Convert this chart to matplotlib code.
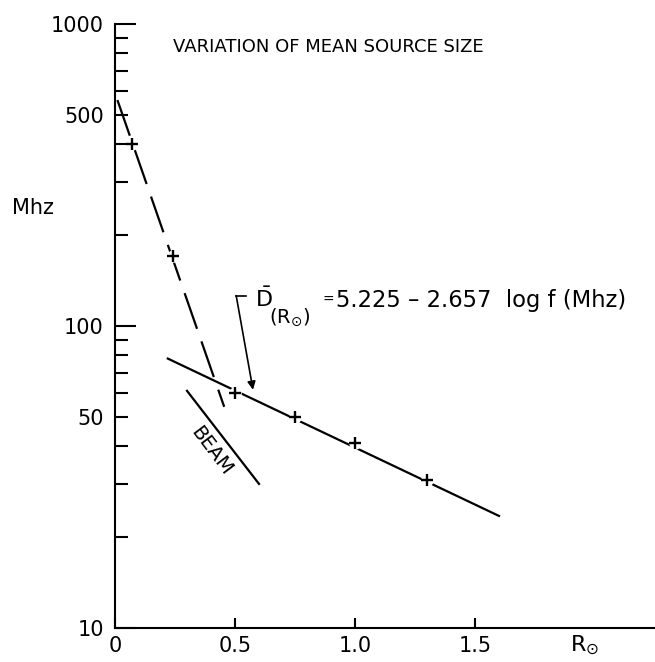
import matplotlib
matplotlib.use("Agg")
import matplotlib.pyplot as plt
from matplotlib.ticker import FixedLocator, FixedFormatter, NullFormatter

# ---- data ----
dashed_fit_x = [0.01, 0.455]
dashed_fit_y = [560, 54]
dashed_pts_x = [0.07, 0.24]
dashed_pts_y = [400, 171]

solid_fit_x = [0.22, 1.60]
solid_fit_y = [78, 23.5]
solid_pts_x = [0.5, 0.75, 1.0, 1.3]
solid_pts_y = [60, 50, 41, 31]

beam_x = [0.30, 0.60]
beam_y = [61, 30]

x_ticks = [0.5, 1.0, 1.5]
x_tick_labels = ["0.5", "1.0", "1.5"]
y_major = [10, 100, 1000]
y_major_labels = ["10", "100", "1000"]
y_minor = [20, 30, 40, 50, 60, 70, 80, 90, 200, 300, 400, 500, 600, 700, 800, 900]
y_minor_labels = ["", "", "", "50", "", "", "", "", "", "", "", "500", "", "", "", ""]

title = "VARIATION OF MEAN SOURCE SIZE"
eq_symbol = r"$\bar{\mathrm{D}}$"
eq_sub = r"(R$_{\odot}$)"
eq_equals = "="
eq_rest = "5.225 – 2.657  log f (Mhz)"

plt.rcParams['font.family'] = ['DejaVu Sans']

W, H = 655, 662
fig = plt.figure(figsize=(W / 100, H / 100), dpi=100)


def px(x, y):
    return x / W, 1 - y / H


ax = fig.add_axes([115 / W, 34 / H, 1 - 115 / W, 604 / H])
ax.set_yscale('log')
ax.set_xlim(0, 2.25)
ax.set_ylim(10, 1000)

for s in ['top', 'right']:
    ax.spines[s].set_visible(False)
for s in ['left', 'bottom']:
    ax.spines[s].set_linewidth(1.5)

ax.yaxis.set_major_locator(FixedLocator(y_major))
ax.yaxis.set_major_formatter(FixedFormatter(y_major_labels))
ax.yaxis.set_minor_locator(FixedLocator(y_minor))
ax.yaxis.set_minor_formatter(FixedFormatter(y_minor_labels))
ax.tick_params(axis='y', which='major', direction='in', length=15, width=1.5, labelsize=15, pad=8)
ax.tick_params(axis='y', which='minor', direction='in', length=9, width=1.5, labelsize=15, pad=8)

ax.xaxis.set_major_locator(FixedLocator([0] + x_ticks))
ax.xaxis.set_major_formatter(FixedFormatter(["0"] + x_tick_labels))
ax.xaxis.set_minor_formatter(NullFormatter())
ax.tick_params(axis='x', which='major', direction='in', length=7, width=1.5, labelsize=15, pad=6)
ax.tick_params(axis='x', which='minor', length=0)

# dashed fit
ax.plot(dashed_fit_x, dashed_fit_y, color='black', lw=1.6, dashes=(17, 6), solid_capstyle='butt')
# solid fit
ax.plot(solid_fit_x, solid_fit_y, color='black', lw=1.6)
# beam
ax.plot(beam_x, beam_y, color='black', lw=1.6)

# markers with small white gap
for mx, my in [(dashed_pts_x, dashed_pts_y), (solid_pts_x, solid_pts_y)]:
    ax.plot(mx, my, linestyle='none', marker='o', ms=9, mfc='white', mec='none', zorder=3)
    ax.plot(mx, my, linestyle='none', marker='+', ms=8.5, mew=1.7, color='black', zorder=4)

# BEAM label
ax.text(0.40, 38.5, "BEAM", rotation=-53, fontsize=14, ha='center', va='center',
        rotation_mode='anchor')

# equation annotation
fig.text(*px(255, 307), eq_symbol, fontsize=16, ha='left', va='baseline')
fig.text(*px(269, 323), eq_sub, fontsize=14, ha='left', va='baseline')
fig.text(*px(322, 304), eq_equals, fontsize=10, ha='left', va='baseline')
fig.text(*px(336, 307), eq_rest, fontsize=16.3, ha='left', va='baseline')
ax.plot([0.545, 0.505], [126, 126], color='black', lw=1.2)
ax.annotate("", xy=(0.575, 61.5), xytext=(0.505, 126),
            arrowprops=dict(arrowstyle='-|>', color='black', lw=1.2,
                            mutation_scale=12, shrinkA=0, shrinkB=0))

# labels
fig.text(*px(328, 47), title, fontsize=13, ha='center', va='center')
fig.text(*px(33, 208), "Mhz", fontsize=15, ha='center', va='center')
fig.text(*px(585, 645), r"R$_{\odot}$", fontsize=16, ha='center', va='center')

fig.savefig("out.png", dpi=100)
